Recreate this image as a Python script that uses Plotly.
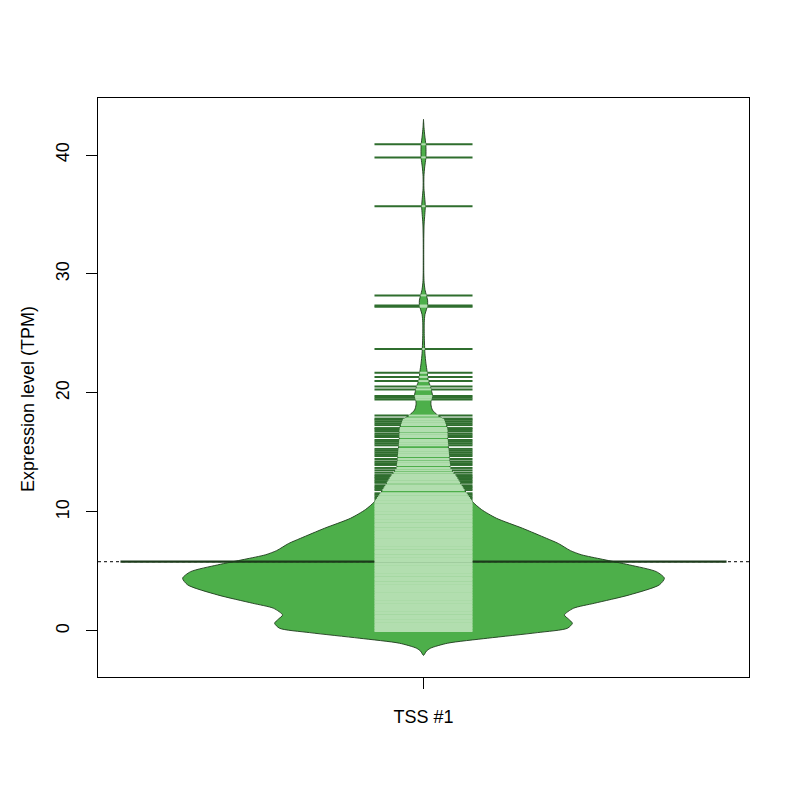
import numpy as np
import plotly.graph_objects as go

# ---- data -------------------------------------------------------------
group_label = "TSS #1"
y_ticks = [0, 10, 20, 30, 40]
y_title = "Expression level (TPM)"

# observed expression values (TPM) -> bean lines
tpm_low = [0.0, 0.12, 0.25, 0.38, 0.5, 0.64, 0.77, 0.9, 1.03, 1.17, 1.3, 1.44,
           1.57, 1.7, 1.84, 1.97, 2.1, 2.24, 2.37, 2.5, 2.63, 2.77, 2.9, 3.03,
           3.17, 3.3, 3.44, 3.57, 3.7, 3.84, 3.97, 4.1, 4.24, 4.37, 4.5, 4.63,
           4.77, 4.9, 5.03, 5.17, 5.3, 5.44, 5.57, 5.7, 5.84, 5.97, 6.1, 6.24,
           6.37, 6.5, 6.63, 6.77, 6.9, 7.03, 7.17, 7.3, 7.44, 7.57, 7.7, 7.84,
           7.97, 8.1, 8.24, 8.37, 8.5, 8.63, 8.77, 8.9, 9.03, 9.17, 9.3, 9.44,
           9.57, 9.7, 9.84, 9.97, 10.1, 10.24, 10.37, 10.5, 10.63, 10.77, 10.9,
           11.03, 11.17, 11.3, 11.44, 11.57, 11.84, 11.97, 12.1, 12.24, 12.45,
           12.57, 12.7, 12.85, 12.97, 13.1, 13.3]
tpm_high = [13.5, 13.7, 13.95, 14.1, 14.25, 14.45, 14.7, 14.85, 15.0, 15.15,
            15.3, 15.6, 15.75, 15.9, 16.05, 16.3, 16.45, 16.6, 16.8, 16.95,
            17.05, 17.3, 17.45, 17.6, 17.75, 17.85, 18.1, 19.45, 19.6, 19.75,
            20.3, 20.55, 21.0, 21.35, 21.7, 23.7, 27.25, 27.35, 28.2, 35.7,
            39.8, 40.9]
mean_value = 5.82

# estimated density of the bean (relative to its maximum)
density_y = [-2.05, -1.7, -1.45, -1.03, -0.61, -0.14, 0.23, 0.65, 1.0, 1.34,
             1.9, 2.33, 3.03, 3.87, 4.43, 4.98, 5.55, 6.02, 6.4, 6.75, 7.35,
             7.79, 8.63, 9.47, 10.2, 10.87, 11.85, 12.83, 13.67, 14.37, 15.3,
             16.2, 16.9, 17.73, 18.15, 18.57, 19.0, 19.27, 19.6, 19.83, 20.2,
             20.53, 21.1, 21.8, 22.5, 23.3, 24.2, 25.0, 25.9, 26.6, 27.0, 27.4,
             27.8, 28.2, 28.7, 29.3, 30.0, 31.5, 33.0, 34.2, 35.0, 35.7, 36.4,
             37.2, 38.2, 39.0, 39.7, 40.3, 40.9, 41.6, 42.3, 43.0]
density_rel = [0.0, 0.012, 0.029, 0.100, 0.266, 0.473, 0.598, 0.618, 0.602,
               0.585, 0.622, 0.710, 0.855, 0.979, 1.0, 0.967, 0.855, 0.743,
               0.656, 0.610, 0.560, 0.510, 0.411, 0.303, 0.241, 0.203, 0.170,
               0.141, 0.112, 0.108, 0.104, 0.100, 0.100, 0.087, 0.058, 0.037,
               0.031, 0.031, 0.035, 0.037, 0.033, 0.029, 0.019, 0.015, 0.010,
               0.006, 0.004, 0.003, 0.003, 0.006, 0.012, 0.017, 0.017, 0.012,
               0.006, 0.0025, 0.0012, 0.001, 0.0012, 0.0025, 0.0054, 0.0075,
               0.005, 0.0017, 0.0017, 0.005, 0.0095, 0.0104, 0.0095, 0.0054,
               0.0021, 0.0]

# ---- styling / geometry -------------------------------------------------
CENTER = 1.0
BEAN_MAX = 0.370      # half-width of the bean at its widest point
LINE_HALF = 0.0753    # half-length of bean lines
MEAN_HALF = 0.4655    # half-length of the average line
FILL = "#4DAF4A"
LIGHT = "#B2DEAF"
DARK = "#2F6E2E"
AVG = "#1B3A1A"
FONT = "Liberation Sans, Arial, Helvetica, sans-serif"

dy = np.array(density_y)
dw = np.array(density_rel) * BEAN_MAX

fig = go.Figure()

# bean (density) polygon
poly_x = list(CENTER + dw) + list(CENTER - dw[::-1])
poly_y = list(dy) + list(dy[::-1])
fig.add_trace(go.Scatter(x=poly_x, y=poly_y, mode="lines", fill="toself",
                         fillcolor=FILL,
                         line=dict(color="#1E3B1D", width=0.9, shape="spline", smoothing=0.7),
                         hoverinfo="skip"))

# overall (dotted) line and average line
fig.add_trace(go.Scatter(x=[0.5, 1.5], y=[mean_value, mean_value], mode="lines",
                         line=dict(color="#333333", width=1.2, dash="dot"), hoverinfo="skip"))
fig.add_trace(go.Scatter(x=[CENTER - MEAN_HALF, CENTER + MEAN_HALF],
                         y=[mean_value, mean_value], mode="lines",
                         line=dict(color=AVG, width=2.2), hoverinfo="skip"))

# bean lines: light inside the bean, dark outside
lx, ly, ox, oy = [], [], [], []
for v in tpm_low + tpm_high:
    w = min(float(np.interp(v, dy, dw)), LINE_HALF)
    lx += [CENTER - w, CENTER + w, None]
    ly += [v, v, None]
    if w < LINE_HALF:
        ox += [CENTER - LINE_HALF, CENTER - w, None, CENTER + w, CENTER + LINE_HALF, None]
        oy += [v, v, None, v, v, None]
fig.add_trace(go.Scatter(x=ox, y=oy, mode="lines", line=dict(color=DARK, width=2),
                         hoverinfo="skip"))
fig.add_trace(go.Scatter(x=lx, y=ly, mode="lines", line=dict(color=LIGHT, width=2),
                         hoverinfo="skip"))

axis_common = dict(showline=True, linecolor="black", linewidth=1, mirror=True,
                   ticks="outside", ticklen=11, tickcolor="black", tickwidth=1,
                   showgrid=False, zeroline=False,
                   tickfont=dict(family=FONT, size=18, color="black"))

fig.update_xaxes(range=[0.5, 1.5], tickvals=[CENTER], ticktext=[group_label],
                 ticklabelstandoff=12, **axis_common)
fig.update_yaxes(range=[-3.87, 44.79], tickvals=y_ticks, tickangle=-90,
                 ticklabelstandoff=10, **axis_common)

fig.add_annotation(text=y_title, xref="paper", yref="paper", x=-0.1075, y=0.48,
                   xanchor="center", yanchor="middle", textangle=-90, showarrow=False,
                   font=dict(family=FONT, size=18, color="black"))

fig.update_layout(width=800, height=800, showlegend=False,
                  margin=dict(l=90, r=59, t=90, b=131),
                  plot_bgcolor="white", paper_bgcolor="white")

fig.write_html("out.html")
